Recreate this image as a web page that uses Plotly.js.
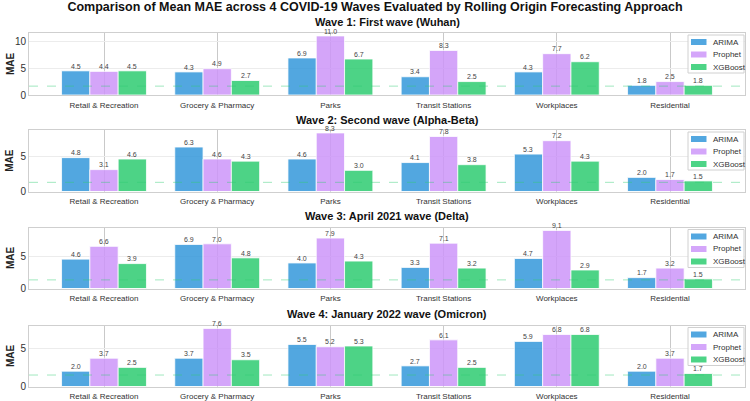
<!DOCTYPE html>
<html>
<head>
<meta charset="utf-8">
<script src="https://cdn.plot.ly/plotly-3.0.1.min.js"></script>
<style>
  html, body { margin: 0; padding: 0; background: #ffffff; }
  #chart { width: 750px; height: 401px; }
</style>
</head>
<body>
<div id="chart"></div>
<script>
// Mobility categories evaluated in every wave
const categories = ["Retail & Recreation", "Grocery & Pharmacy", "Parks",
                    "Transit Stations", "Workplaces", "Residential"];

const waveTitles = [
  "Wave 1: First wave (Wuhan)",
  "Wave 2: Second wave (Alpha-Beta)",
  "Wave 3: April 2021 wave (Delta)",
  "Wave 4: January 2022 wave (Omicron)"
];

// Mean MAE per model, one array per wave
const arimaMAE = [
  [4.5, 4.3, 6.9, 3.4, 4.3, 1.8],
  [4.8, 6.3, 4.6, 4.1, 5.3, 2.0],
  [4.6, 6.9, 4.0, 3.3, 4.7, 1.7],
  [2.0, 3.7, 5.5, 2.7, 5.9, 2.0]
];
const prophetMAE = [
  [4.4, 4.9, 11.0, 8.3, 7.7, 2.5],
  [3.1, 4.6, 8.3, 7.8, 7.2, 1.7],
  [6.6, 7.0, 7.9, 7.1, 9.1, 3.2],
  [3.7, 7.6, 5.2, 6.1, 6.8, 3.7]
];
const xgboostMAE = [
  [4.5, 2.7, 6.7, 2.5, 6.2, 1.8],
  [4.6, 4.3, 3.0, 3.8, 4.3, 1.5],
  [3.9, 4.8, 4.3, 3.2, 2.9, 1.5],
  [2.5, 3.5, 5.3, 2.5, 6.8, 1.7]
];

// Reference level drawn as a dashed line in each wave
const referenceMAE = [1.65, 1.3, 1.35, 1.5];

const modelNames = ["ARIMA", "Prophet", "XGBoost"];
const modelColors = ["#3498db", "#cd96f9", "#2ecc71"];
const modelFills = ["rgba(52,152,219,0.85)", "rgba(205,150,249,0.85)", "rgba(46,204,113,0.85)"];
const modelData = [arimaMAE, prophetMAE, xgboostMAE];

const W = 750, H = 401;
const ML = 29, MR = 5;
const plotW = W - ML - MR;
// panel boxes in pixel rows (top, bottom)
const panelRows = [[33, 95], [130, 191.5], [227.5, 288.5], [325.5, 386.5]];
const titleRows = [22, 119.5, 216.5, 314];

const barWidth = 0.25;                       // in category units
const xRange = [-0.6625, categories.length - 1 + 0.6625];
const pxPerUnit = plotW / (xRange[1] - xRange[0]);

const px2x = p => (p - ML) / plotW;
const px2y = p => 1 - p / H;

const traces = [];
const layout = {
  width: W, height: H,
  margin: {l: ML, r: MR, t: 0, b: 0},
  paper_bgcolor: "#ffffff",
  plot_bgcolor: "#ffffff",
  barmode: "group",
  bargap: 1 - 3 * barWidth,
  bargroupgap: 0,
  showlegend: false,
  font: {family: "Liberation Sans, Arial, sans-serif", color: "#333333"},
  title: {
    text: "<b>Comparison of Mean MAE across 4 COVID-19 Waves Evaluated by Rolling Origin Forecasting Approach</b>",
    font: {size: 12.5, color: "#111111"},
    xref: "container", x: 0.5, xanchor: "center",
    yref: "container", y: 1 - 6.5 / H, yanchor: "middle"
  },
  annotations: [],
  shapes: []
};

for (let w = 0; w < 4; w++) {
  const sfx = w === 0 ? "" : String(w + 1);
  const xa = "x" + sfx, ya = "y" + sfx;

  modelNames.forEach((name, m) => {
    const vals = modelData[m][w];
    traces.push({
      type: "bar",
      name: name,
      x: categories,
      y: vals,
      xaxis: xa, yaxis: ya,
      marker: {color: modelColors[m], opacity: 0.85, line: {color: "#ffffff", width: 0.8}},
      hoverinfo: "x+y+name"
    });
    // value labels above each bar
    vals.forEach((v, i) => {
      layout.annotations.push({
        text: v.toFixed(1),
        xref: xa, x: categories[i], xshift: (m - 1) * barWidth * pxPerUnit,
        yref: ya, y: v, yshift: 4.8,
        xanchor: "center", yanchor: "middle", borderpad: 0,
        showarrow: false, font: {size: 7, color: "#444444"}
      });
    });
  });

  const maxVal = Math.max(...arimaMAE[w], ...prophetMAE[w], ...xgboostMAE[w]);
  const [top, bottom] = panelRows[w];
  const dom = [px2y(bottom), px2y(top)];

  layout["xaxis" + sfx] = {
    anchor: ya,
    domain: [0, 1],
    type: "category",
    range: xRange,
    showgrid: true, gridcolor: "#c9c9c9", gridwidth: 1,
    showline: true, mirror: true, linecolor: "#cfcfcf", linewidth: 1,
    ticks: "", ticklabelstandoff: 2,
    tickfont: {size: 8, color: "#333333"},
    zeroline: false, fixedrange: true
  };
  layout["yaxis" + sfx] = {
    anchor: xa,
    domain: dom,
    range: [0, maxVal * 1.05],
    dtick: 5, tick0: 0,
    showgrid: true, gridcolor: "#ececec", gridwidth: 1,
    showline: true, mirror: true, linecolor: "#cfcfcf", linewidth: 1,
    ticks: "", tickfont: {size: 10, color: "#333333"},
    zeroline: false, fixedrange: true
  };

  layout.annotations.push({
    text: "<b>" + waveTitles[w] + "</b>",
    xref: "paper", x: 0.5, xanchor: "center",
    yref: "paper", y: px2y(titleRows[w]), yanchor: "middle", borderpad: 0,
    showarrow: false, font: {size: 11, color: "#111111"}
  });
  layout.annotations.push({
    text: "<b>MAE</b>",
    xref: "paper", x: 0, xshift: -19, xanchor: "center",
    yref: "paper", y: (dom[0] + dom[1]) / 2, yanchor: "middle",
    textangle: -90, showarrow: false, font: {size: 10, color: "#222222"}
  });

  layout.shapes.push({
    type: "line", layer: "above",
    xref: xa + " domain", x0: 0, x1: 1,
    yref: ya, y0: referenceMAE[w], y1: referenceMAE[w],
    line: {color: "rgba(46,204,113,0.45)", width: 1, dash: "dash"}
  });

  // legend box in the upper right corner of the panel
  const lgTop = top + 2, lgLeft = 688, lgRight = 744;
  layout.shapes.push({
    type: "rect", layer: "above",
    xref: "paper", yref: "paper",
    x0: px2x(lgLeft), x1: px2x(lgRight),
    y0: px2y(lgTop), y1: px2y(lgTop + 38),
    fillcolor: "rgba(255,255,255,0.85)",
    line: {color: "#d0d0d0", width: 1}
  });
  modelNames.forEach((name, m) => {
    const cy = lgTop + 7 + m * 12.5;
    layout.shapes.push({
      type: "rect", layer: "above",
      xref: "paper", yref: "paper",
      x0: px2x(691), x1: px2x(706.5),
      y0: px2y(cy + 3), y1: px2y(cy - 3),
      fillcolor: modelFills[m], line: {width: 0}
    });
    layout.annotations.push({
      text: name,
      xref: "paper", x: px2x(711), xanchor: "left",
      yref: "paper", y: px2y(cy), yanchor: "middle",
      showarrow: false, font: {size: 8, color: "#333333"}
    });
  });
}

Plotly.newPlot("chart", traces, layout, {displayModeBar: false, staticPlot: true});
</script>
</body>
</html>
